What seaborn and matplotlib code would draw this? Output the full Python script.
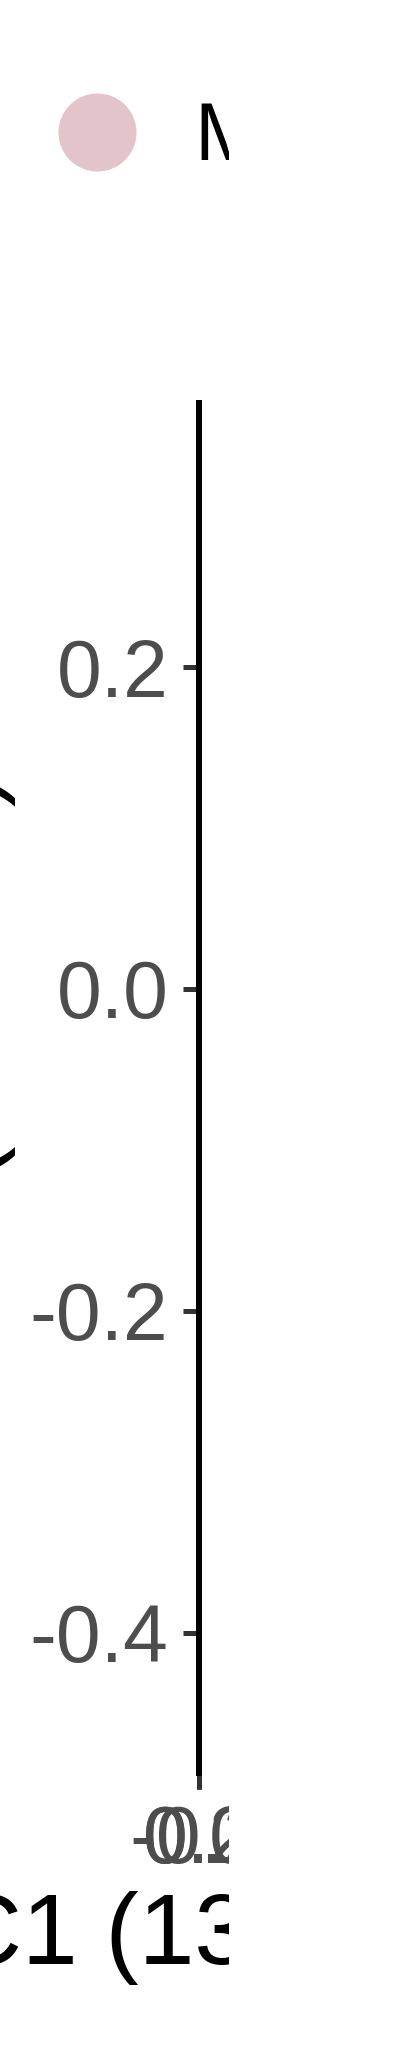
import matplotlib
matplotlib.use("Agg")
import matplotlib.pyplot as plt
from matplotlib.patches import Rectangle
import seaborn as sns
import pandas as pd

# data -------------------------------------------------------------------
group = ["Mock"] * 6
pc1 = [-0.21, -0.15, 0.04, 0.12, 0.18, 0.02]
pc2 = [0.28, -0.05, 0.11, -0.32, 0.07, -0.41]
y_ticks = [-0.4, -0.2, 0.0, 0.2]
x_ticks = [-0.2, 0.0, 0.2]
x_title = "PC1 (13.45%)"
y_title = "PC2 (10.86%)"
point_color = "#E4C4CB"

df = pd.DataFrame({"PC1": pc1, "PC2": pc2, "group": group})

# figure -----------------------------------------------------------------
W, H = 409, 2047
sns.set_theme(style="ticks")
plt.rcParams["font.family"] = ["Liberation Sans", "DejaVu Sans"]
plt.rcParams["text.color"] = "black"

fig = plt.figure(figsize=(W / 100, H / 100), dpi=100)
# the panel got squeezed to (almost) nothing, only the y axis line is left
ax = fig.add_axes([199 / W, 1 - 1773 / H, 1e-4, (1773 - 403) / H])

sns.scatterplot(data=df, x="PC1", y="PC2", hue="group", palette=[point_color],
                s=3157, linewidth=0, ax=ax)

ax.set_xlim(-0.25, 0.25)
ax.set_ylim(-0.487, 0.364)
ax.set_xticks(x_ticks)
ax.set_xticklabels([f"{v:.1f}" for v in x_ticks])
ax.set_yticks(y_ticks)
ax.set_yticklabels([f"{v:.1f}" for v in y_ticks])

ax.spines[["top", "right"]].set_visible(False)
for side in ["left", "bottom"]:
    ax.spines[side].set_linewidth(4.3)
    ax.spines[side].set_color("black")
ax.tick_params(axis="both", length=11.5, width=3.6, color="#333333",
               labelsize=58, labelcolor="#4D4D4D", pad=10.5)

ax.set_xlabel(x_title, fontsize=72, color="black")
ax.xaxis.set_label_coords(197 / W, 1 - 1964 / H, transform=fig.transFigure)
ax.xaxis.label.set_va("baseline")

ax.set_ylabel(y_title, fontsize=72, color="black")
ax.yaxis.set_label_coords(-5 / W, 1 - 1087 / H, transform=fig.transFigure)
ax.yaxis.label.set_va("baseline")

sns.move_legend(ax, loc="center left", bbox_to_anchor=(57 / W, 1 - 139 / H),
                bbox_transform=fig.transFigure, title=None, frameon=False,
                fontsize=58, handlelength=1.0, handletextpad=0.71,
                borderpad=0, borderaxespad=0, labelcolor="black")

# everything right of x=229 is blank in the original
fig.add_artist(Rectangle((229 / W, 0), 1 - 229 / W, 1, transform=fig.transFigure,
                         facecolor="white", edgecolor="none", zorder=100))

fig.savefig("out.png", dpi=100)
